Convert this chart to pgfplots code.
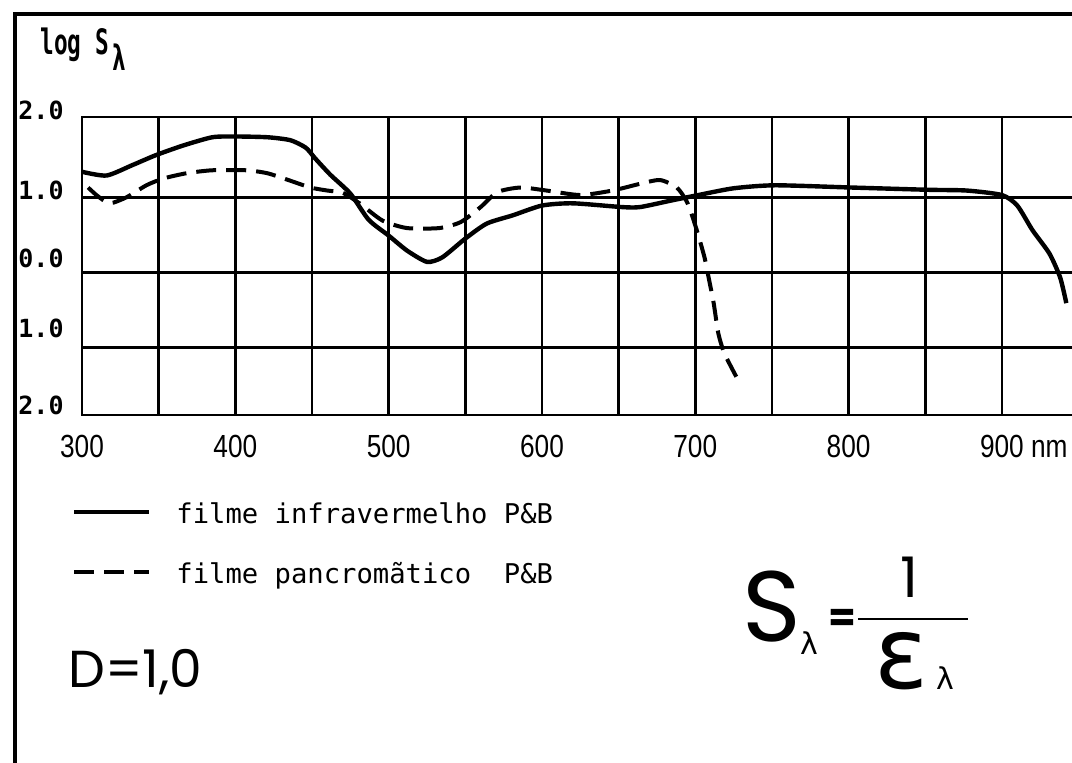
\documentclass[border=0pt]{standalone}
\usepackage{pgfplots}
\pgfplotsset{compat=1.18}
\usepackage{fontspec}
\setmainfont{DejaVu Sans Mono}
\newfontfamily\tickfont[FakeStretch=0.82]{Liberation Sans}
\newfontfamily\monob[FakeStretch=0.65]{DejaVu Sans Mono}
\newfontfamily\monoy{DejaVu Sans Mono}
\newfontfamily\hand{Poppins}
\newfontfamily\greek{DejaVu Sans}

\pgfplotstableread{
x y
300 1.34
316 1.29
333 1.43
348 1.56
366 1.69
385 1.80
400 1.81
421 1.80
436 1.76
446 1.66
452 1.52
462 1.30
475 1.05
487 0.70
500 0.49
512 0.29
525 0.14
535 0.20
550 0.45
564 0.65
581 0.76
600 0.89
620 0.92
652 0.87
664 0.87
685 0.96
702 1.03
725 1.12
752 1.16
802 1.13
852 1.10
877 1.09
900 1.03
910 0.89
920 0.56
931 0.25
938 -0.07
942 -0.41
}\infra

\pgfplotstableread{
x y
304 1.13
310 1.02
318 0.92
329 1.00
342 1.16
353 1.25
368 1.32
385 1.36
407 1.36
421 1.32
436 1.22
449 1.13
460 1.09
470 1.06
481 0.92
496 0.69
512 0.59
533 0.59
547 0.67
560 0.87
571 1.07
586 1.13
603 1.09
625 1.03
646 1.09
664 1.18
677 1.23
688 1.13
695 0.92
701 0.56
706 0.20
709 -0.10
712 -0.41
715 -0.81
719 -1.08
727 -1.40
}\pancro

\begin{document}
\begin{tikzpicture}
\useasboundingbox (0pt,0pt) rectangle (536pt,381.5pt);
% outer frame
\draw[line width=1.8pt] (7.5pt,-2pt) -- (7.5pt,374.5pt) -- (540pt,374.5pt);

\begin{axis}[
  at={(41pt,174pt)}, anchor=south west, scale only axis,
  width=498.3pt, height=149pt,
  xmin=300, xmax=950, ymin=-1.9, ymax=2.07,
  xtick={300,400,...,900},
  xticklabels={300,400,500,600,700,800,900\rlap{~nm}},
  minor xtick={350,450,...,950},
  ytick={-1,0,1}, yticklabels={},
  major tick length=0pt, minor tick length=0pt,
  grid=both,
  major grid style={black, line width=1.3pt},
  minor grid style={black, line width=1.3pt},
  axis line style={black, line width=1.4pt},
  xticklabel style={font=\tickfont\fontsize{16}{16}\selectfont, inner sep=0pt, yshift=-10pt},
  legend style={draw=none, fill=none, at={(-0.010,-0.295)}, anchor=north west,
    font=\fontsize{13.6}{16}\selectfont, row sep=18pt, column sep=12.5pt,
    inner sep=0pt, outer sep=0pt, nodes={inner sep=0pt}},
  legend cell align=left,
  legend image code/.code={\draw[#1] (0pt,1.5pt) -- (37.5pt,1.5pt);},
]
\addplot[black, line width=2.2pt, smooth, tension=0.4] table {\infra};
\addlegendentry{filme infravermelho P\&B}
\addplot[black, line width=2pt, dash pattern=on 10pt off 5pt, smooth, tension=0.4] table {\pancro};
\addlegendentry{filme pancromãtico\ \ P\&B}
\end{axis}

% y labels
\begin{scope}[every node/.style={inner sep=0pt, anchor=west, font=\monoy\bfseries\fontsize{12.5}{12.5}\selectfont}]
\node at (9pt,326.5pt) {2.0};
\node at (9pt,286.5pt) {1.0};
\node at (9pt,252.5pt) {0.0};
\node at (9pt,217.5pt) {1.0};
\node at (9pt,179pt) {2.0};
\end{scope}
\node[inner sep=0pt, anchor=base west, font=\monob\bfseries\fontsize{17.5}{17.5}\selectfont] at (20pt,354pt) {log S\kern2pt\raisebox{-8pt}{λ}};

% D = 1,0
\node[inner sep=0pt, anchor=base west, font=\hand\fontsize{26}{26}\selectfont] at (34pt,37.5pt) {D=1,0};

% formula
\node[inner sep=0pt, anchor=base west, font=\hand\fontsize{50}{50}\selectfont] at (371pt,60.5pt) {S};
\node[inner sep=0pt, anchor=base west, font=\greek\fontsize{15}{15}\selectfont] at (400pt,54pt) {λ};
\node[inner sep=0pt, anchor=center, font=\hand\bfseries\fontsize{20}{20}\selectfont] at (421pt,71.5pt) {=};
\draw[line width=1.2pt] (429pt,72pt) -- (484pt,72pt);
\node[inner sep=0pt, anchor=center, font=\hand\fontsize{28}{28}\selectfont] at (454.5pt,93pt) {1};
\node[inner sep=0pt, anchor=center, font=\greek\fontsize{50}{50}\selectfont] at (451pt,51pt) {ε};
\node[inner sep=0pt, anchor=center, font=\greek\fontsize{15}{15}\selectfont] at (472.5pt,42.5pt) {λ};
\end{tikzpicture}
\end{document}
